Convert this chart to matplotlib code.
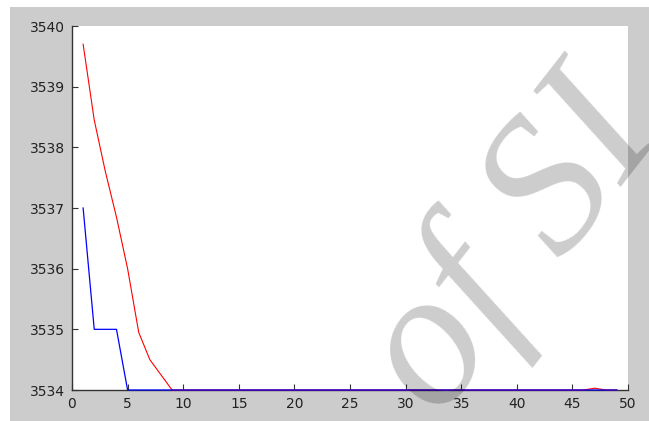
import matplotlib
matplotlib.use("Agg")
import matplotlib.pyplot as plt
from matplotlib.patches import Rectangle

# iteration number and the two traces
red_x = [1, 2, 3, 4, 5, 6, 7, 8, 9, 10, 46, 47, 48, 49]
red_y = [3539.7, 3538.45, 3537.6, 3536.85, 3536.0, 3534.95, 3534.5, 3534.25,
         3534.0, 3534.0, 3534.0, 3534.03, 3534.0, 3534.0]
blue_x = [1, 2, 3, 4, 5, 49]
blue_y = [3537, 3535, 3535, 3535, 3534, 3534]

xticks = list(range(0, 51, 5))
yticks = [3534, 3535, 3536, 3537, 3538, 3539, 3540]

fig = plt.figure(figsize=(6.49, 4.21), dpi=100)
fig.patch.set_facecolor("white")
# MATLAB style grey figure area (white strip top/left as in the screenshot)
fig.patches.append(Rectangle((10 / 649, 0), 1, 1 - 7 / 421, transform=fig.transFigure,
                             facecolor="#cccccc", edgecolor="none", zorder=-10))

ax = fig.add_axes([72 / 649, 1 - 390 / 421, 556 / 649, 364 / 421])
ax.set_facecolor("white")

ax.plot(red_x, red_y, color="#ff0000", lw=0.8, clip_on=False, zorder=3)
ax.plot(blue_x, blue_y, color="#0000ff", lw=0.9, clip_on=False, zorder=4)

ax.set_xlim(0, 50)
ax.set_ylim(3534, 3540)
ax.set_xticks(xticks)
ax.set_yticks(yticks)
ax.ticklabel_format(useOffset=False, style="plain")

for s in ["top", "right"]:
    ax.spines[s].set_visible(False)
for s in ["left", "bottom"]:
    ax.spines[s].set_color("#333333")
    ax.spines[s].set_linewidth(1.0)

ax.tick_params(direction="in", length=4, width=0.8, color="#333333",
               labelsize=10, labelcolor="#222222", pad=5)

# watermark
fig.text(0.79, 0.41, "of SI", fontsize=140, family="Liberation Serif", style="italic",
         color="black", alpha=0.2, rotation=52, ha="center", va="center", zorder=20)

fig.savefig("out.png", dpi=100, facecolor=fig.get_facecolor())
